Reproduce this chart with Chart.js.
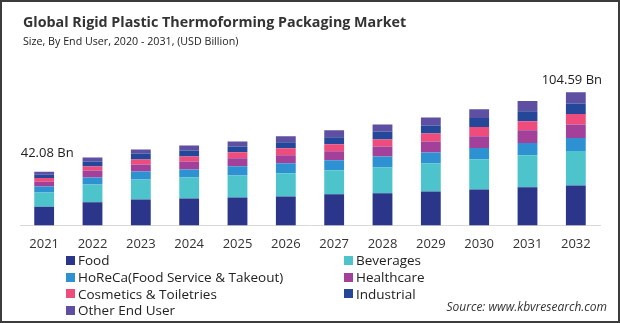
<!DOCTYPE html>
<html lang="en">
<head>
<meta charset="UTF-8">
<title>Global Rigid Plastic Thermoforming Packaging Market</title>
<script src="https://cdn.jsdelivr.net/npm/chart.js@4.4.1/dist/chart.umd.min.js"></script>
<style>
  html, body { margin: 0; padding: 0; background: #fff; }
  #frame {
    position: relative; width: 620px; height: 323px; box-sizing: border-box;
    border: 2px solid #3c3c3c; overflow: hidden; font-family: "Open Sans", sans-serif; color: #222;
  }
  #chart { position: absolute; left: -2px; top: -2px; }
  .title { position: absolute; left: 21px; top: 10px; font-size: 14.3px; font-weight: bold; color: #333; white-space: nowrap; }
  .sub { position: absolute; left: 21px; top: 32px; font-size: 10.7px; color: #222; white-space: nowrap; }
  #legend {
    position: absolute; left: 64px; top: 250px; display: grid;
    grid-template-columns: 278px auto; grid-auto-rows: 16.7px; font-size: 13.5px;
  }
  #legend div { display: flex; align-items: center; white-space: nowrap; }
  #legend span.box { width: 9px; height: 9px; margin-right: 3px; display: inline-block; }
  .source { position: absolute; right: 11px; top: 296px; font-size: 12px; font-style: italic; color: #333; }
</style>
</head>
<body>
<div id="frame">
  <canvas id="chart" width="620" height="323"></canvas>
  <div class="title">Global Rigid Plastic Thermoforming Packaging Market</div>
  <div class="sub">Size, By End User, 2020 - 2031, (USD Billion)</div>
  <div id="legend"></div>
  <div class="source">Source: www.kbvresearch.com</div>
</div>
<script>
// data (USD Billion)
const years = ['2021', '2022', '2023', '2024', '2025', '2026', '2027', '2028', '2029', '2030', '2031', '2032'];
const food       = [14.6, 18.1, 20.4, 21.2, 22.0, 22.8, 24.4, 25.2, 26.7, 28.3, 29.9, 31.4];
const beverages  = [11.2, 14.1, 15.7, 16.5, 17.3, 18.1, 18.9, 20.4, 22.0, 23.6, 25.2, 27.0];
const horeca     = [4.7, 5.5, 6.3, 6.3, 7.1, 7.9, 7.9, 8.6, 8.6, 8.9, 9.7, 10.2];
const healthcare = [3.9, 5.5, 5.5, 6.3, 6.3, 6.3, 7.1, 7.9, 8.6, 9.2, 10.0, 10.8];
const cosmetics  = [2.9, 3.1, 3.9, 3.9, 4.7, 5.5, 5.5, 5.5, 6.3, 7.3, 7.1, 8.1];
const industrial = [2.6, 3.9, 4.7, 4.7, 4.7, 4.7, 5.5, 6.3, 6.3, 7.1, 7.9, 8.4];
const otherUser  = [2.18, 3.1, 3.1, 3.9, 3.9, 4.7, 5.5, 5.5, 6.3, 6.8, 7.9, 8.69];
const seriesNames = ['Food', 'Beverages', 'HoReCa(Food Service & Takeout)', 'Healthcare', 'Cosmetics & Toiletries', 'Industrial', 'Other End User'];
const totalLabels = ['42.08 Bn', '', '', '', '', '', '', '', '', '', '', '104.59 Bn'];

const colors = ['#2b3589', '#4dc4cc', '#2e91d2', '#a3419a', '#ee4c7d', '#24479a', '#5e4fa2'];
const seriesData = [food, beverages, horeca, healthcare, cosmetics, industrial, otherUser];

// legend: two columns, filled row by row
const legend = document.getElementById('legend');
seriesNames.forEach((name, i) => {
  const d = document.createElement('div');
  d.innerHTML = '<span class="box" style="background:' + colors[i] + '"></span>' + name;
  legend.appendChild(d);
});

// total labels above first and last bar
const totalsPlugin = {
  id: 'totals',
  afterDatasetsDraw(chart) {
    const ctx = chart.ctx;
    const x = chart.scales.x, y = chart.scales.y;
    ctx.save();
    ctx.font = '13px "Open Sans"';
    ctx.fillStyle = '#222';
    ctx.textAlign = 'center';
    ctx.textBaseline = 'middle';
    totalLabels.forEach((t, i) => {
      if (!t) return;
      const sum = seriesData.reduce((a, s) => a + s[i], 0);
      const lift = i === 0 ? 19 : 12;
      ctx.fillText(t, x.getPixelForValue(i) + (i === 0 ? 3 : -4), y.getPixelForValue(sum) - lift);
    });
    ctx.restore();
  }
};

new Chart(document.getElementById('chart'), {
  type: 'bar',
  data: {
    labels: years,
    datasets: seriesData.map((d, i) => ({
      label: seriesNames[i],
      data: d,
      backgroundColor: colors[i],
      borderWidth: 0,
      categoryPercentage: 0.41,
      barPercentage: 1
    }))
  },
  options: {
    responsive: false,
    animation: false,
    layout: { padding: { left: 20, right: 20, top: 60, bottom: 60 } },
    plugins: { legend: { display: false }, tooltip: { enabled: false } },
    scales: {
      x: {
        stacked: true,
        grid: { display: false, drawTicks: false },
        border: { display: true, color: '#d9d9d9', width: 1 },
        ticks: { color: '#333', font: { family: 'Open Sans', size: 13 }, padding: 11 }
      },
      y: { stacked: true, display: false, min: 0, max: 130 }
    }
  },
  plugins: [totalsPlugin]
});
</script>
</body>
</html>
